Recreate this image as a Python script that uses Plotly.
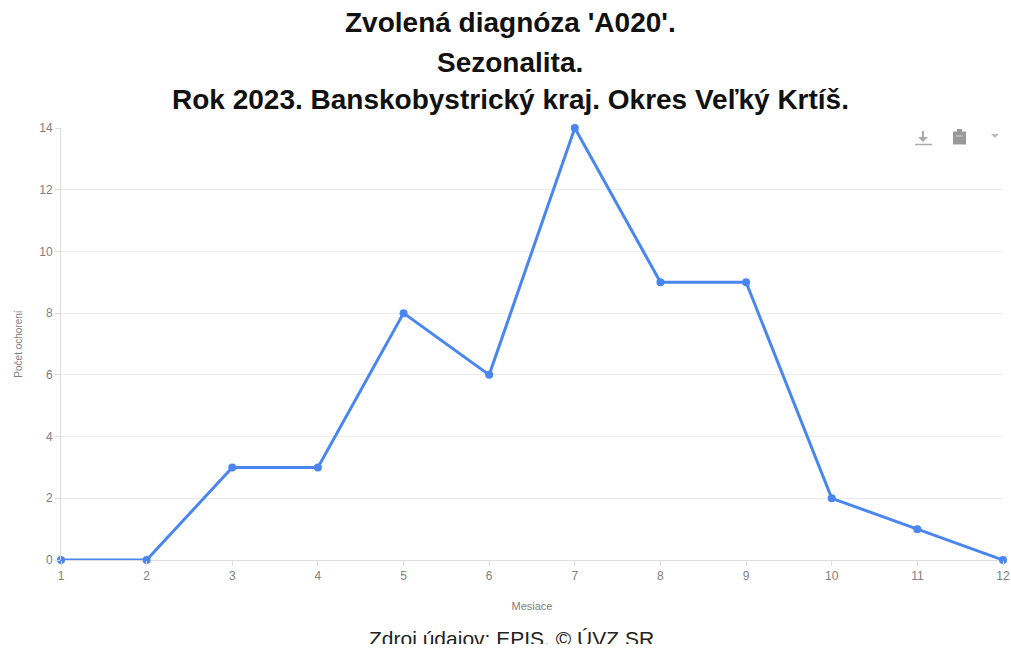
import plotly.graph_objects as go

months = [1, 2, 3, 4, 5, 6, 7, 8, 9, 10, 11, 12]
cases = [0, 0, 3, 3, 8, 6, 14, 9, 9, 2, 1, 0]
title_lines = ["Zvolená diagnóza 'A020'.", "Sezonalita.",
               "Rok 2023. Banskobystrický kraj. Okres Veľký Krtíš."]
footer = "Zdroj údajov: EPIS, © ÚVZ SR"

FONT = "Liberation Sans"
W, H = 1011, 644
L, R, T, B = 61, 8, 128, 84
PW, PH = W - L - R, H - T - B
OFF = 0


def px(sx):
    return (sx - OFF - L) / PW


def py(sy):
    return (H - B - (sy - OFF)) / PH


fig = go.Figure()
fig.add_trace(go.Scatter(
    x=months, y=cases, mode="lines+markers",
    line=dict(color="#4a86f0", width=3),
    marker=dict(color="#4a86f0", size=8),
    cliponaxis=False,
    hovertemplate="%{x}: %{y}<extra></extra>",
))

axis_font = dict(family=FONT, size=12, color="#808080")
fig.update_layout(
    width=W, height=H,
    margin=dict(l=L, r=R, t=T, b=B),
    paper_bgcolor="white", plot_bgcolor="white",
    showlegend=False,
    xaxis=dict(
        range=[1, 12], tickvals=months, ticks="outside", ticklen=5,
        tickcolor="#dcdcdc", tickfont=axis_font, showgrid=False,
        showline=False, zeroline=False, automargin=False,
        ticklabeloverflow="allow",
        title=dict(text="Mesiace", font=dict(family=FONT, size=11, color="#808080"), standoff=19),
    ),
    yaxis=dict(
        range=[0, 14], dtick=2, ticks="outside", ticklen=5,
        tickcolor="#dcdcdc", tickfont=axis_font, gridcolor="#ececec",
        showline=True, linecolor="#dcdcdc", linewidth=1,
        zeroline=True, zerolinecolor="#dcdcdc", zerolinewidth=1,
        automargin=False,
        title=dict(text="Počet ochorení", font=dict(family=FONT, size=10, color="#808080"), standoff=14),
    ),
)

for txt, sy in zip(title_lines, [23, 62, 100]):
    fig.add_annotation(
        text="<b>" + txt + "</b>", xref="paper", yref="paper",
        x=px(510), y=py(sy), xanchor="center", yanchor="middle",
        showarrow=False, font=dict(family=FONT, size=28, color="#111111"),
    )
fig.add_annotation(
    text=footer, xref="paper", yref="paper",
    x=px(511), y=py(638), xanchor="center", yanchor="middle",
    showarrow=False, font=dict(family=FONT, size=21, color="#222222"),
)

# toolbox icons (download, clipboard, dropdown)
icon = "#aaaaaa"
shapes = [
    dict(type="line", x0=px(923), x1=px(923), y0=py(131), y1=py(140), line=dict(color=icon, width=2)),
    dict(type="path", path=f"M {px(918)} {py(137)} L {px(928)} {py(137)} L {px(923)} {py(142)} Z",
         fillcolor=icon, line=dict(width=0)),
    dict(type="line", x0=px(915), x1=px(932), y0=py(144.5), y1=py(144.5), line=dict(color=icon, width=1.5)),
    dict(type="rect", x0=px(953), x1=px(966), y0=py(131.5), y1=py(144.5), fillcolor="#999999",
         line=dict(width=0)),
    dict(type="rect", x0=px(957), x1=px(962), y0=py(129), y1=py(132), fillcolor="#999999",
         line=dict(width=0)),
    dict(type="line", x0=px(956), x1=px(963), y0=py(136), y1=py(136), line=dict(color="#cfcfcf", width=1)),
    dict(type="path", path=f"M {px(991)} {py(134)} L {px(999)} {py(134)} L {px(995)} {py(138)} Z",
         fillcolor="#bbbbbb", line=dict(width=0)),
]
for s in shapes:
    s.update(xref="paper", yref="paper", layer="above")
    fig.add_shape(**s)

fig.write_html(
    "out.html",
    config={"displayModeBar": False},
    post_script="document.body.style.margin='0';document.documentElement.style.overflow='hidden';",
)
